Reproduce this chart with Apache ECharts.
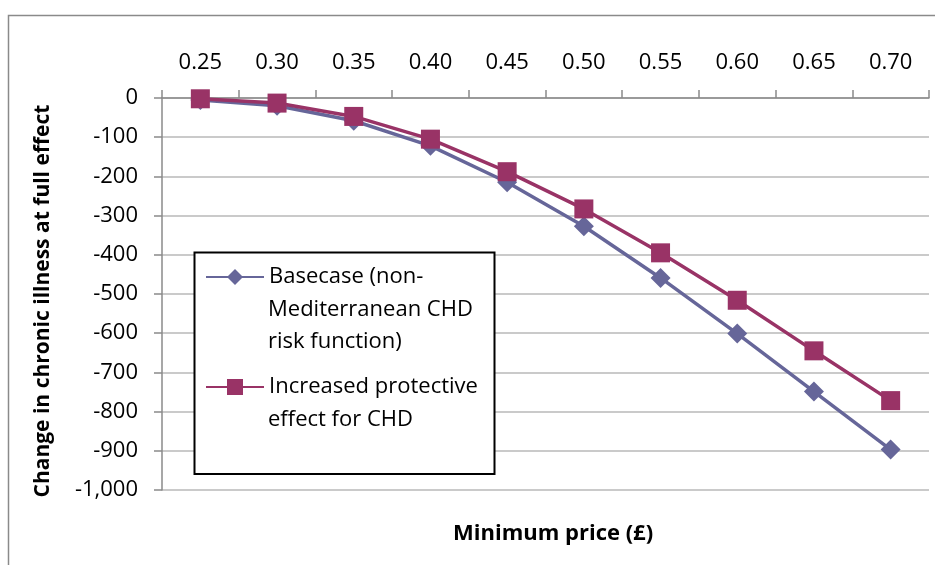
<!DOCTYPE html>
<html>
<head>
<meta charset="utf-8">
<script src="https://cdn.jsdelivr.net/npm/echarts@6/dist/echarts.min.js"></script>
<style>
  html, body { margin: 0; padding: 0; background: #ffffff; }
  #chart { width: 935px; height: 565px; }
</style>
</head>
<body>
<div id="chart"></div>
<script>
// Minimum unit price (£) on the category axis
const prices = ['0.25', '0.30', '0.35', '0.40', '0.45', '0.50', '0.55', '0.60', '0.65', '0.70'];

// Change in chronic illness at full effect, per scenario
const basecase = [-5, -20, -58, -122, -215, -327, -459, -601, -749, -897];
const increasedProtective = [-2, -13, -47, -105, -188, -283, -395, -516, -645, -772];

const seriesNames = [
  'Basecase (non-\nMediterranean CHD\nrisk function)',
  'Increased protective\neffect for CHD'
];

const yMin = -1000;
const yMax = 0;
const yStep = 100;

const LEGEND_LINE = 32.5;
const LEGEND_LEFT = 205;
const LEGEND_ICON_W = 58;
const LEGEND_TEXT_X = LEGEND_LEFT + LEGEND_ICON_W + 5;
const legendRowY = [277, 387];   // centre of each entry's first line
const bodyFont = 'Open Sans';

const chart = echarts.init(document.getElementById('chart'), null, { renderer: 'canvas' });

// One legend per entry: icon plus the first line of its label
function legendFor(name, i) {
  return {
    z: 4,
    orient: 'vertical',
    left: LEGEND_LEFT,
    top: legendRowY[i] - 16,
    padding: 0,
    itemWidth: LEGEND_ICON_W,
    itemHeight: 20,
    selectedMode: false,
    textStyle: { fontFamily: bodyFont, fontSize: 22, color: '#000000', lineHeight: 32 },
    formatter: function (n) { return n.split('\n')[0]; },
    data: [name]
  };
}

// Continuation lines of the wrapped legend labels
function legendTail(name, i) {
  const rest = name.split('\n').slice(1);
  return {
    type: 'text',
    z: 5,
    silent: true,
    x: LEGEND_TEXT_X,
    y: legendRowY[i] + LEGEND_LINE * (1 + (rest.length - 1) / 2),
    style: {
      text: rest.join('\n'),
      fontFamily: bodyFont,
      fontSize: 22,
      lineHeight: LEGEND_LINE,
      fill: '#000000',
      align: 'left',
      verticalAlign: 'middle'
    }
  };
}

chart.setOption({
  animation: false,
  backgroundColor: '#ffffff',
  grid: { left: 162, right: 6, top: 98, bottom: 75, containLabel: false },
  title: {
    text: 'Minimum price (£)',
    left: 453,
    top: 523,
    padding: 0,
    textStyle: { fontFamily: bodyFont, fontWeight: 'bold', fontSize: 22, color: '#000000' }
  },
  graphic: [
    {
      type: 'rect',
      z: 0,
      silent: true,
      shape: { x: 8.5, y: 15.5, width: 940, height: 600 },
      style: { fill: 'none', stroke: '#8a8a8a', lineWidth: 1.5 }
    },
    {
      type: 'rect',
      z: 3,
      silent: true,
      shape: { x: 194.5, y: 252.5, width: 300, height: 221.5 },
      style: { fill: '#ffffff', stroke: '#000000', lineWidth: 2 }
    }
  ].concat(seriesNames.map(legendTail)),
  legend: seriesNames.map(legendFor),
  xAxis: {
    type: 'category',
    position: 'top',
    data: prices,
    boundaryGap: true,
    axisLine: { show: true, onZero: false, lineStyle: { color: '#8a8a8a', width: 1.5 } },
    axisTick: { show: true, length: 8, inside: false, lineStyle: { color: '#8a8a8a', width: 1.5 } },
    axisLabel: { margin: 24, fontFamily: bodyFont, fontSize: 22, color: '#000000' },
    splitLine: { show: false }
  },
  yAxis: {
    type: 'value',
    min: yMin,
    max: yMax,
    interval: yStep,
    name: 'Change in chronic illness at full effect',
    nameLocation: 'middle',
    nameRotate: 90,
    nameGap: 108,
    nameTextStyle: { fontFamily: bodyFont, fontWeight: 'bold', fontSize: 21, color: '#000000', padding: [0, 0, 0, -14] },
    axisLine: { show: true, onZero: false, lineStyle: { color: '#8a8a8a', width: 1.5 } },
    axisTick: { show: true, length: 8, lineStyle: { color: '#8a8a8a', width: 1.5 } },
    axisLabel: {
      margin: 24,
      fontFamily: bodyFont,
      fontSize: 22,
      color: '#000000',
      formatter: function (v) { return v.toLocaleString('en-US'); }
    },
    splitLine: { show: true, lineStyle: { color: '#b8b8b8', width: 1.5 } }
  },
  series: [
    {
      name: seriesNames[0],
      type: 'line',
      data: basecase,
      symbol: 'diamond',
      symbolSize: 20,
      color: '#666699',
      lineStyle: { width: 3.5, color: '#666699' },
      itemStyle: { color: '#666699' },
      z: 2
    },
    {
      name: seriesNames[1],
      type: 'line',
      data: increasedProtective,
      symbol: 'rect',
      symbolSize: 19,
      color: '#993366',
      lineStyle: { width: 3.5, color: '#993366' },
      itemStyle: { color: '#993366' },
      z: 2
    }
  ]
});
</script>
</body>
</html>
